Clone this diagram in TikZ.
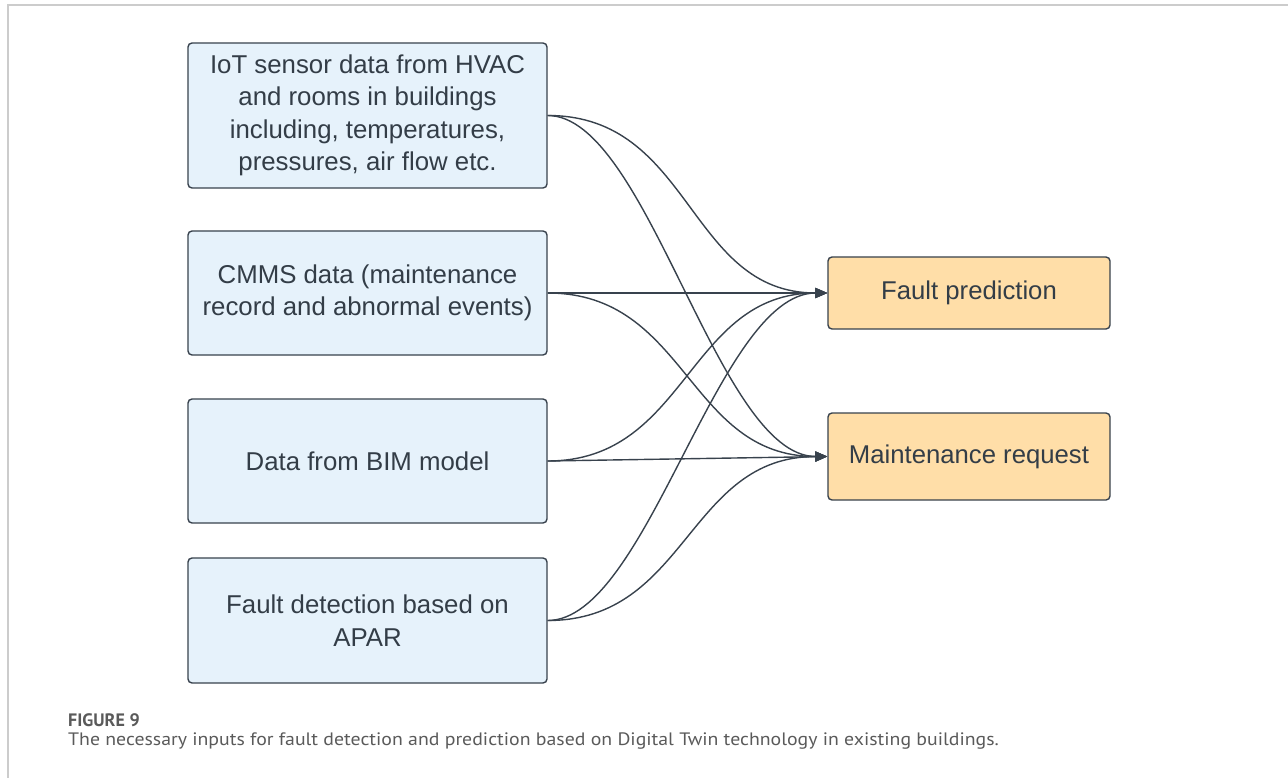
\documentclass[tikz,border=0pt]{standalone}
\usepackage{fontspec}
\setmainfont{Liberation Sans}
\newfontfamily\capfont{PT Sans}
\usetikzlibrary{arrows.meta}
\definecolor{inblue}{HTML}{E6F2FB}
\definecolor{outorange}{HTML}{FFDEA8}
\definecolor{edgecol}{HTML}{38424D}
\definecolor{txtcol}{HTML}{333D47}
\definecolor{framecol}{HTML}{CCCCCC}
\definecolor{capgray}{HTML}{5A5A5A}
\begin{document}
\begin{tikzpicture}[x=1pt,y=-1pt,
  inbox/.style={draw=edgecol, line width=1.4pt, fill=inblue, rounded corners=4pt,
    minimum width=359pt, align=center, text=txtcol, inner sep=0pt,
    font=\fontsize{25.8}{32.5}\selectfont},
  outbox/.style={draw=edgecol, line width=1.4pt, fill=outorange, rounded corners=4pt,
    minimum width=282pt, align=center, text=txtcol, inner sep=0pt,
    font=\fontsize{25.7}{32}\selectfont},
  link/.style={draw=edgecol, line width=1.4pt, -{Triangle[length=12pt,width=10pt]}},
]
\useasboundingbox (0,0) rectangle (1288,778);
% frame
\draw[framecol, line width=2pt] (1288,5.5) -- (7.5,5.5) -- (7.5,778);

% input boxes
\node[inbox, minimum height=145pt] (b1) at (367.5,115.5)
  {IoT sensor data from HVAC\\and rooms in buildings\\including, temperatures,\\pressures, air flow etc.};
\node[inbox, minimum height=124pt] (b2) at (367.5,293)
  {CMMS data (maintenance\\record and abnormal events)};
\node[inbox, minimum height=124pt] (b3) at (367.5,461)
  {Data from BIM model};
\node[inbox, minimum height=125pt] (b4) at (367.5,620.5)
  {Fault detection based on\\APAR};

% outputs
\node[outbox, minimum height=72pt] (fp) at (969,293) {Fault prediction};
\node[outbox, minimum height=87pt] (mr) at (969,456.5) {Maintenance request};

% connectors
\draw[link] (b1.east) .. controls +(145,0) and +(-140,0) .. (fp.west);
\draw[link] (b1.east) .. controls +(100,0) and +(-110,0) .. (mr.west);
\draw[link] (b2.east) -- (fp.west);
\draw[link] (b2.east) .. controls +(140,0) and +(-140,0) .. (mr.west);
\draw[link] (b3.east) .. controls +(140,0) and +(-140,0) .. (fp.west);
\draw[link] (b3.east) -- (mr.west);
\draw[link] (b4.east) .. controls +(100,0) and +(-110,0) .. (fp.west);
\draw[link] (b4.east) .. controls +(140,0) and +(-140,0) .. (mr.west);

% caption
\node[anchor=base west, inner sep=0pt, text=capgray, font=\capfont\bfseries\fontsize{18}{20}\selectfont] (figlbl) at (68,726) {FIGURE 9};
\node[anchor=base west, inner sep=0pt, text=capgray, font=\capfont\fontsize{18}{20}\selectfont] (captxt) at (68,745)
  {\scalebox{1.1}[1]{The necessary inputs for fault detection and prediction based on Digital Twin technology in existing buildings.}};
\end{tikzpicture}
\end{document}
